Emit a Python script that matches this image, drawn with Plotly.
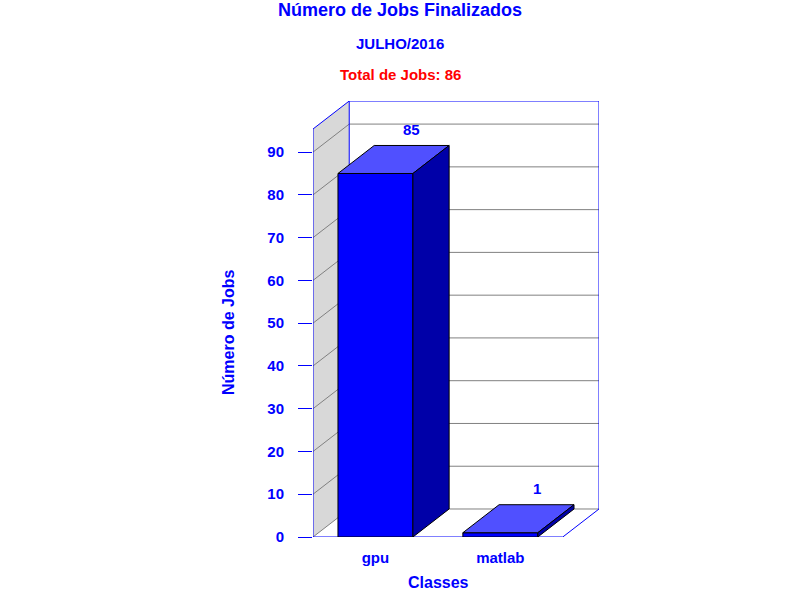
import plotly.graph_objects as go

# Dados
classes = ["gpu", "matlab"]
jobs = [85, 1]
total_jobs = 86
y_ticks = [0, 10, 20, 30, 40, 50, 60, 70, 80, 90]

# estilo / efeito 3D
dx = 0.29          # profundidade em unidades de x
dy = 6.55          # profundidade em unidades de y
bar_w = 0.6
y_front_top = 95.4
azul = "#0000ff"
fonte = "Liberation Sans"

xs = list(range(len(classes)))
x_left = -0.5
x_right = len(classes) - 0.5
y_back_top = y_front_top + dy

fig = go.Figure()

shapes = []
# parede lateral
shapes.append(dict(type="path", xref="x", yref="y", layer="below",
                   path=f"M {x_left},0 L {x_left+dx},{dy} L {x_left+dx},{y_back_top} L {x_left},{y_front_top} Z",
                   fillcolor="#d8d8d8", line=dict(width=0)))
# grade
for v in y_ticks:
    shapes.append(dict(type="line", xref="x", yref="y", layer="below",
                       x0=x_left, y0=v, x1=x_left + dx, y1=v + dy,
                       line=dict(color="#808080", width=1)))
    shapes.append(dict(type="line", xref="x", yref="y", layer="below",
                       x0=x_left + dx, y0=v + dy, x1=x_right + dx, y1=v + dy,
                       line=dict(color="#808080", width=1)))
# bordas azuis
bordas = [
    (x_left, 0, x_left, y_front_top),
    (x_left, y_front_top, x_left + dx, y_back_top),
    (x_left + dx, y_back_top, x_right + dx, y_back_top),
    (x_right + dx, y_back_top, x_right + dx, dy),
    (x_left + dx, dy, x_left + dx, y_back_top),
    (x_left, 0, x_right, 0),
    (x_right, 0, x_right + dx, dy),
]
for x0, y0, x1, y1 in bordas:
    shapes.append(dict(type="line", xref="x", yref="y", layer="below",
                       x0=x0, y0=y0, x1=x1, y1=y1, line=dict(color=azul, width=1)))

# barras (frente)
fig.add_trace(go.Bar(x=xs, y=jobs, width=bar_w, marker_color=azul,
                     marker_line=dict(color="black", width=1), hoverinfo="skip"))

# topo e lado das barras
for x, v in zip(xs, jobs):
    l, r = x - bar_w / 2, x + bar_w / 2
    fig.add_trace(go.Scatter(x=[l, l + dx, r + dx, r, l], y=[v, v + dy, v + dy, v, v],
                             fill="toself", fillcolor="#5050ff", mode="lines",
                             line=dict(color="black", width=1), hoverinfo="skip"))
    fig.add_trace(go.Scatter(x=[r, r + dx, r + dx, r, r], y=[0, dy, v + dy, v, 0],
                             fill="toself", fillcolor="#0000a8", mode="lines",
                             line=dict(color="black", width=1), hoverinfo="skip"))

# rótulos de valor
for x, v in zip(xs, jobs):
    fig.add_annotation(x=x + dx, y=v + dy, xref="x", yref="y", text=str(v),
                       showarrow=False, yanchor="middle", yshift=16,
                       font=dict(family=fonte, size=15, color=azul, weight="bold"))

fig.update_layout(
    width=800, height=600,
    paper_bgcolor="white", plot_bgcolor="white",
    margin=dict(l=313, r=201, t=101, b=63),
    showlegend=False,
    shapes=shapes,
    xaxis=dict(range=[x_left, x_right + dx], tickvals=xs, ticktext=classes,
               showgrid=False, zeroline=False, showline=False, ticks="",
               tickfont=dict(family=fonte, size=15, color=azul, weight="bold"),
               ticklabelstandoff=10, fixedrange=True),
    yaxis=dict(range=[0, y_back_top], tickvals=y_ticks, showgrid=False, zeroline=False,
               showline=False, ticks="outside", ticklen=14, tickcolor=azul, tickwidth=1,
               tickfont=dict(family=fonte, size=15, color=azul, weight="bold"),
               ticklabelstandoff=11, fixedrange=True),
)

def px_y(p):
    return (537 - p) / 436.0

def px_x(p):
    return (p - 313) / 286.0

textos = [
    ("Número de Jobs Finalizados", 400, 10, 18, azul, 0),
    ("JULHO/2016", 400, 43, 15, azul, 0),
    ("Total de Jobs: %d" % total_jobs, 400, 74, 15, "#ff0000", 0),
    ("Classes", 438, 582, 16, azul, 0),
    ("Número de Jobs", 228, 333, 16, azul, -90),
]
for t, xp, yp, sz, cor, ang in textos:
    fig.add_annotation(text=t, x=px_x(xp), y=px_y(yp), xref="paper", yref="paper",
                       showarrow=False, textangle=ang, xanchor="center", yanchor="middle",
                       font=dict(family=fonte, size=sz, color=cor, weight="bold"))

# tira a margem padrão do body para a figura ocupar a janela toda
fig.write_html("out.html", config={"displayModeBar": False},
               post_script="document.body.style.margin='0';document.body.style.overflow='hidden';")
